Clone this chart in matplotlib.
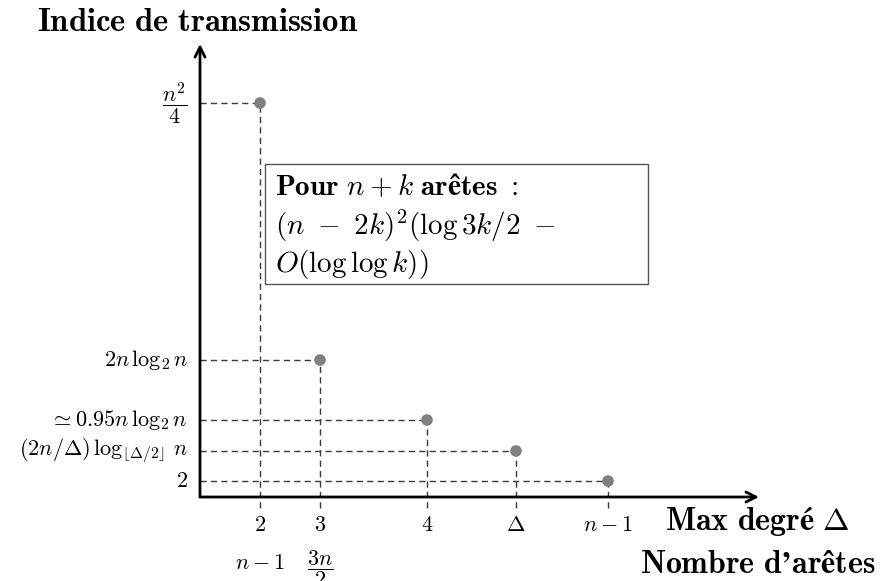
import matplotlib
matplotlib.use("Agg")
import matplotlib.pyplot as plt
from matplotlib.patches import Rectangle

plt.rcParams['mathtext.fontset'] = 'cm'
plt.rcParams['font.family'] = 'serif'
plt.rcParams['font.serif'] = ['cmr10', 'DejaVu Serif']

# schematic positions of the points (axis origin at 0, 0)
x_vals = [0.60, 1.20, 2.27, 3.16, 4.08]
y_vals = [3.94, 1.37, 0.77, 0.46, 0.16]

x_labels = [r'$2$', r'$3$', r'$4$', r'$\Delta$', r'$n-1$']
x_labels2 = [r'$n-1$', r'$\dfrac{3n}{2}$']
y_labels = [r'$\dfrac{n^2}{4}$', r'$2n\,\log_2 n$', r'$\simeq 0.95n\,\log_2 n$',
            r'$(2n/\Delta)\,\log_{\lfloor\Delta/2\rfloor}\, n$', r'$2$']

box_lines = [r'$\mathbf{Pour}\ n+k\ \mathbf{arêtes}\ \mathbf{:}$',
             r'$(n\ -\ 2k)^2(\log 3k/2\ -$',
             r'$O(\log\log k))$']

dash_col = '#3a3a3a'
dot_col = '#808080'

fig = plt.figure(figsize=(8.82, 5.81), dpi=100)
ax = fig.add_axes([0, 0, 1, 1])
ax.set_xlim(-2.0, 6.82)
ax.set_ylim(-0.84, 4.97)
ax.axis('off')

# dashed guides
for x, y in zip(x_vals, y_vals):
    ax.plot([0, x], [y, y], ls=(0, (4.5, 3)), lw=1.0, color=dash_col, zorder=1)
    ax.plot([x, x], [-0.11, y], ls=(0, (4.5, 3)), lw=1.0, color=dash_col, zorder=1)

ax.scatter(x_vals, y_vals, s=70, color=dot_col, zorder=4, edgecolor='none')

# axes with arrows
ax.annotate('', xy=(5.59, 0), xytext=(0, 0),
            arrowprops=dict(arrowstyle='->', lw=2.0, color='black',
                            shrinkA=0, shrinkB=0, mutation_scale=18))
ax.annotate('', xy=(0, 4.53), xytext=(0, 0),
            arrowprops=dict(arrowstyle='->', lw=2.0, color='black',
                            shrinkA=0, shrinkB=0, mutation_scale=18))

# tick labels
for x, lab in zip(x_vals, x_labels):
    ax.text(x, -0.28, lab, ha='center', va='center', fontsize=16)
ax.text(x_vals[0], -0.66, x_labels2[0], ha='center', va='center', fontsize=16)
ax.text(x_vals[1], -0.72, x_labels2[1], ha='center', va='center', fontsize=16)
for y, lab in zip(y_vals, y_labels):
    ax.text(-0.12, y, lab, ha='right', va='center', fontsize=16)

# axis titles
ax.text(-0.02, 4.75, r'$\mathbf{Indice\ de\ transmission}$', ha='center', va='center', fontsize=23.5)
ax.text(4.65, -0.24, r'$\mathbf{Max\ degré}\ \Delta$', ha='left', va='center', fontsize=23)
ax.text(4.40, -0.68, r'$\mathbf{Nombre\ d’arêtes}$', ha='left', va='center', fontsize=23)

# annotation box
ax.add_patch(Rectangle((0.65, 2.13), 3.83, 1.20, facecolor='white',
                       edgecolor='#555555', lw=1.0, zorder=3))
for i, line in enumerate(box_lines):
    ax.text(0.75, 3.10 - i * 0.39, line, ha='left', va='center', fontsize=21, zorder=5)

fig.savefig('out.png', dpi=100)
